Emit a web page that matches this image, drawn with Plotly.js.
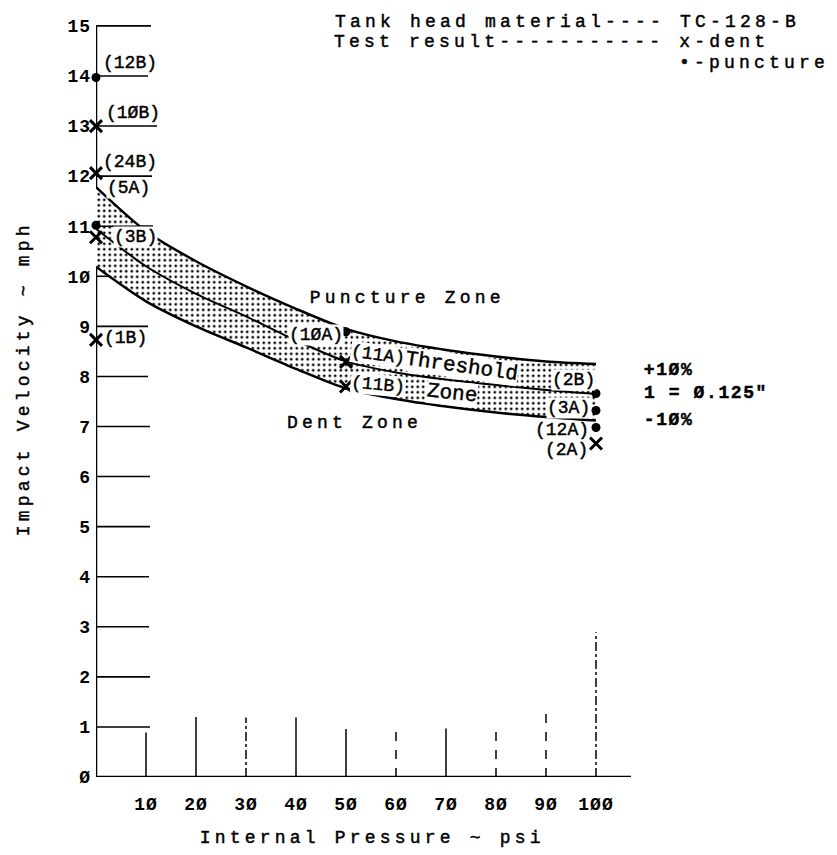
<!DOCTYPE html>
<html>
<head>
<meta charset="utf-8">
<script src="https://cdn.plot.ly/plotly-3.0.1.min.js"></script>
<style>
html, body { margin: 0; padding: 0; background: #fff; }
#chart { width: 837px; height: 855px; }
.xtick text, .ytick text { letter-spacing: 1px; }
</style>
</head>
<body>
<div id="chart"></div>
<script>
// Impact velocity threshold for TC-128-B tank heads vs. internal pressure

// Threshold band, read at every 10 psi
const pressureGrid  = [0, 10, 20, 30, 40, 50, 60, 70, 80, 90, 100];
const upperBound    = [11.78, 10.9, 10.3, 9.8, 9.35, 8.95, 8.7, 8.53, 8.4, 8.3, 8.25];   // +10%
const thresholdMid  = [10.95, 10.2, 9.65, 9.2, 8.72, 8.3, 8.08, 7.94, 7.83, 7.73, 7.65];
const lowerBound    = [10.19, 9.5, 9.0, 8.58, 8.15, 7.76, 7.55, 7.4, 7.28, 7.19, 7.12];   // -10%

// Test results: x = dent, dot = puncture
const dentIds       = ['(1ØB)', '(24B)', '(3B)', '(1B)', '(11A)', '(11B)', '(2A)'];
const dentPressure  = [0, 0, 0, 0, 50, 50, 100];
const dentVelocity  = [13.0, 12.06, 10.78, 8.73, 8.29, 7.80, 6.66];

const punctureIds      = ['(12B)', '(5A)', '(1ØA)', '(2B)', '(3A)', '(12A)'];
const puncturePressure = [0, 0, 50, 100, 100, 100];
const punctureVelocity = [13.97, 11.02, 8.89, 7.66, 7.32, 6.98];

// Axis labelling
const xTickVals = [10, 20, 30, 40, 50, 60, 70, 80, 90, 100];
const xTickText = ['1Ø', '2Ø', '3Ø', '4Ø', '5Ø', '6Ø', '7Ø', '8Ø', '9Ø', '1ØØ'];
const yTickVals = [0, 1, 2, 3, 4, 5, 6, 7, 8, 9, 10, 11, 12, 13, 14, 15];
const yTickText = ['Ø', '1', '2', '3', '4', '5', '6', '7', '8', '9', '1Ø', '11', '12', '13', '14', '15'];

// Hand-ruled guide marks: horizontal stubs off the velocity axis, vertical stubs off the pressure axis
const yStubLevels = [1, 2, 3, 4, 5, 6, 7, 8, 9, 10, 11, 12, 13, 14, 15];
const yStubReach  = [10.8, 10.8, 10.6, 10.6, 10.8, 10.8, 10.8, 10.4, 10.4, 2.5, 11.4, 11.2, 12.2, 10.4, 11.0];
const xStubLevels = [10, 20, 30, 40, 50, 60, 70, 80, 90, 100];
const xStubReach  = [0.89, 1.2, 1.19, 1.19, 0.96, 1.03, 0.97, 1.07, 1.32, 2.89];
const xStubDash   = ['solid', 'solid', 'dashdot', 'solid', 'solid', 'dash', 'solid', 'dash', 'dash', 'dashdot'];

const typeFace = '"Liberation Mono", "Courier New", monospace';
const ink = '#000';

const traces = [];

// velocity axis and pressure axis rules
traces.push({ x: [0, 0], y: [0, 15], mode: 'lines', line: { color: ink, width: 2.5 }, hoverinfo: 'skip', cliponaxis: false });
traces.push({ x: [0, 107], y: [0, 0], mode: 'lines', line: { color: ink, width: 2.5 }, hoverinfo: 'skip', cliponaxis: false });

// horizontal stubs
{
  const sx = [], sy = [];
  yStubLevels.forEach((v, i) => { sx.push(0, yStubReach[i], null); sy.push(v, v, null); });
  traces.push({ x: sx, y: sy, mode: 'lines', line: { color: ink, width: 1.6 }, hoverinfo: 'skip', cliponaxis: false });
}
// vertical stubs
xStubLevels.forEach((p, i) => {
  traces.push({ x: [p, p], y: [0, xStubReach[i]], mode: 'lines',
    line: { color: ink, width: 1.5, dash: xStubDash[i] }, hoverinfo: 'skip', cliponaxis: false });
});

// threshold band with stipple
traces.push({ x: pressureGrid, y: lowerBound, mode: 'lines',
  line: { color: ink, width: 2.5, shape: 'spline', smoothing: 0.8 }, hoverinfo: 'skip' });
traces.push({ x: pressureGrid, y: upperBound, mode: 'lines', fill: 'tonexty', fillcolor: 'white',
  fillpattern: { shape: '.', fgcolor: ink, bgcolor: 'white', size: 5.5, solidity: 0.2 },
  line: { color: ink, width: 2.5, shape: 'spline', smoothing: 0.8 }, hoverinfo: 'skip' });
traces.push({ x: pressureGrid, y: thresholdMid, mode: 'lines',
  line: { color: ink, width: 2, shape: 'spline', smoothing: 0.8 }, hoverinfo: 'skip' });

// redraw the 11 mph stub over the band
traces.push({ x: [0, yStubReach[10]], y: [11, 11], mode: 'lines', line: { color: ink, width: 1.6 }, hoverinfo: 'skip', cliponaxis: false });

// test points
traces.push({ x: dentPressure, y: dentVelocity, text: dentIds, mode: 'markers',
  marker: { symbol: 'x-thin', size: 12, color: ink, line: { color: ink, width: 3 } },
  hoverinfo: 'text', cliponaxis: false });
traces.push({ x: puncturePressure, y: punctureVelocity, text: punctureIds, mode: 'markers',
  marker: { symbol: 'circle', size: 9, color: ink },
  hoverinfo: 'text', cliponaxis: false });

// text notes; each carries its own typewriter letter pitch
const notes = [];
const notePitch = [];
function note(text, x, y, font, pitch, extra) {
  notes.push(Object.assign({ text: text, x: x, y: y, xref: 'x', yref: 'y', showarrow: false,
    xanchor: 'center', yanchor: 'middle', font: font }, extra || {}));
  notePitch.push(pitch);
}
const bigType = { family: typeFace, size: 18, color: ink };
const idType  = { family: typeFace, size: 18, color: ink };
const numType = { family: typeFace, size: 18, color: ink, weight: 'bold' };
const thrType = { family: typeFace, size: 21, color: ink };
// labels lying on the stipple sit on a white patch
const onBand = { bgcolor: 'white', borderpad: 0 };

note('Tank head material---- TC-128-B', 94.2, 15.08, bigType, 4.2);
note('Test result----------- x-dent', 91.1, 14.67, bigType, 4.2);
note('•-puncture', 131.6, 14.26, bigType, 4.2);

note('Puncture Zone', 62.2, 9.57, bigType, 4.2);
note('Dent Zone', 51.6, 7.07, bigType, 4.2);

note(punctureIds[0], 6.7, 14.26, idType, 0);
note(dentIds[0], 7.3, 13.26, idType, 0);
note(dentIds[1], 6.8, 12.28, idType, 0);
note(punctureIds[1], 6.5, 11.76, idType, 0, onBand);
note(dentIds[2], 7.8, 10.78, idType, 0, onBand);
note(dentIds[3], 5.9, 8.77, idType, 0);
note(punctureIds[2], 43.9, 8.82, idType, 0, onBand);
note(dentIds[4], 56.4, 8.42, idType, 0, Object.assign({ textangle: 8 }, onBand));
note('Threshold', 73.0, 8.2, thrType, 0, Object.assign({ textangle: 8 }, onBand));
note(dentIds[5], 56.4, 7.83, idType, 0, Object.assign({ textangle: 5 }, onBand));
note('Zone', 71.2, 7.66, thrType, 0, Object.assign({ textangle: 6 }, onBand));
note(punctureIds[3], 95.4, 7.93, idType, 0, onBand);
note(punctureIds[4], 94.5, 7.37, idType, 0, onBand);
note(punctureIds[5], 93.1, 6.93, idType, 0);
note(dentIds[6], 94.1, 6.53, idType, 0);

note('+1Ø%', 114.4, 8.13, numType, 1.6);
note('1 = Ø.125"', 121.9, 7.67, numType, 1.6);
note('-1Ø%', 114.4, 7.13, numType, 1.6);

// axis titles
note('Internal Pressure ~ psi', 0.3725, -0.0795, bigType, 4.2, { xref: 'paper', yref: 'paper' });
note('Impact Velocity ~ mph', -0.0972, 0.52, bigType, 4.2, { xref: 'paper', yref: 'paper', textangle: -90 });

// per-note letter pitch and a slightly heavier typewriter stroke
const css = notePitch.map((p, i) =>
  'g.annotation[data-index="' + i + '"] text { letter-spacing: ' + p + 'px; stroke: #000; stroke-width: 0.45px; }'
).join('\n');
const styleEl = document.createElement('style');
styleEl.textContent = css;
document.head.appendChild(styleEl);

const layout = {
  width: 837, height: 855,
  margin: { l: 96, r: 0, t: 10, b: 78, pad: 0 },
  paper_bgcolor: 'white', plot_bgcolor: 'white',
  showlegend: false,
  xaxis: {
    range: [0, 148.2], showgrid: false, zeroline: false, showline: false, ticks: '',
    tickmode: 'array', tickvals: xTickVals, ticktext: xTickText,
    tickfont: { family: typeFace, size: 18, color: ink, weight: 'bold' },
    ticklabelstandoff: 14, fixedrange: true
  },
  yaxis: {
    range: [0, 15.318], showgrid: false, zeroline: false, showline: false, ticks: '',
    tickmode: 'array', tickvals: yTickVals, ticktext: yTickText,
    tickfont: { family: typeFace, size: 18, color: ink, weight: 'bold' },
    ticklabelstandoff: 4, fixedrange: true
  },
  annotations: notes
};

Plotly.newPlot('chart', traces, layout, { displayModeBar: false, staticPlot: true });
</script>
</body>
</html>
